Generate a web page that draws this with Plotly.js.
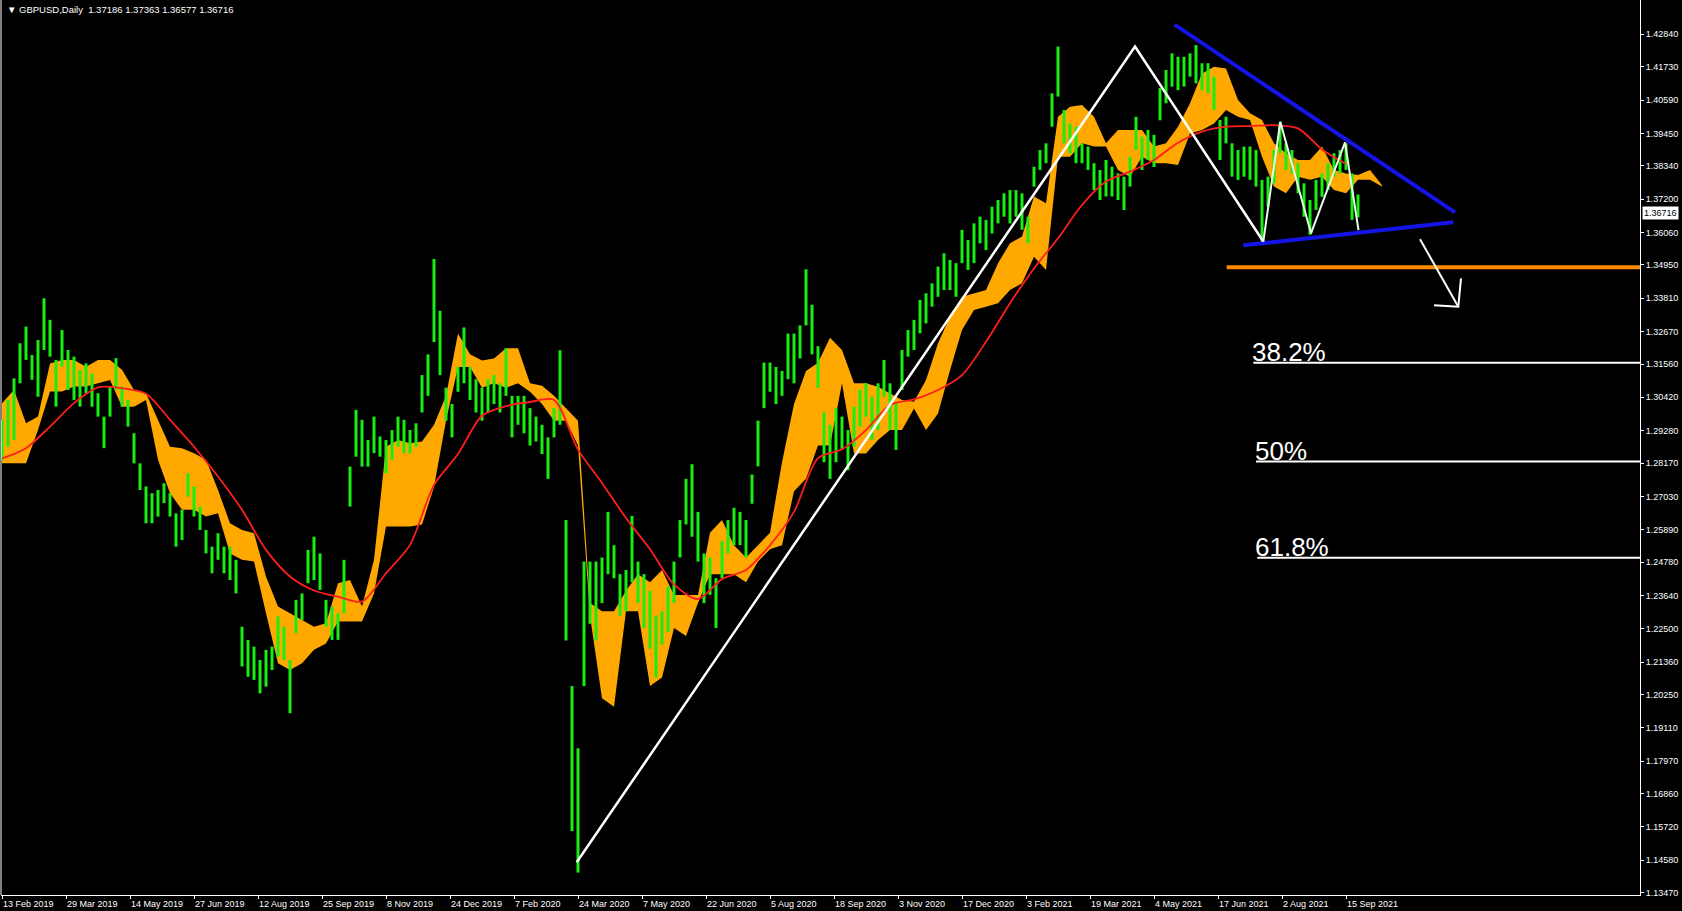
<!DOCTYPE html>
<html>
<head>
<meta charset="utf-8">
<script src="https://cdn.plot.ly/plotly-3.0.1.min.js"></script>
<style>
html,body{margin:0;padding:0;background:#000;overflow:hidden;}
#chart{width:1682px;height:911px;}
</style>
</head>
<body>
<div id="chart"></div>
<script>
// ---------- DATA (GBPUSD daily) ----------
const symbolTitle = 'GBPUSD,Daily';
const lastOHLC = ['1.37186', '1.37363', '1.36577', '1.36716'];
const lastClose = 1.36716;

// one sampled bar every 3 trading days (bar index 0 = 13 Feb 2019)
const barStep = 3;
const barHigh = [
1.2965,1.3033,1.3107,1.3227,1.3284,1.3187,1.3238,1.3381,1.3307,1.3170,
1.3272,1.3204,1.3181,1.3136,1.3158,1.3124,1.3056,1.2976,1.3079,1.3176,
1.3079,1.3033,1.2919,1.2816,1.2737,1.2714,1.2725,1.2748,1.2714,1.2645,
1.2657,1.2782,1.2737,1.2668,1.2588,1.2531,1.2577,1.2531,1.2531,1.2486,
1.2257,1.2212,1.2189,1.2143,1.2178,1.2189,1.2292,1.2257,1.2143,1.2349,
1.2371,1.2520,1.2565,1.2508,1.2349,1.2326,1.2303,1.2486,1.2805,1.2999,
1.2965,1.2896,1.2976,1.2908,1.2896,1.2930,1.2976,1.2965,1.2930,1.2953,
1.3118,1.3189,1.3515,1.3338,1.3075,1.3019,1.3146,1.3281,1.3146,1.3104,
1.3075,1.3104,1.3118,1.3090,1.3210,1.3047,1.3047,1.3047,1.3005,1.2976,
1.2948,1.2905,1.3005,1.3203,1.2622,1.2054,1.1841,1.2480,1.2480,1.2480,
1.2494,1.2650,1.2536,1.2437,1.2451,1.2636,1.2480,1.2437,1.2380,1.2295,
1.2310,1.2395,1.2480,1.2622,1.2763,1.2813,1.2650,1.2508,1.2494,1.2423,
1.2551,1.2622,1.2664,1.2650,1.2622,1.2778,1.2962,1.3161,1.3161,1.3146,
1.3132,1.3260,1.3260,1.3288,1.3480,1.3359,1.3217,1.2990,1.2948,1.3005,
1.2976,1.2930,1.3010,1.3067,1.3090,1.3044,1.3090,1.3170,1.3090,1.3021,
1.3204,1.3272,1.3307,1.3375,1.3398,1.3432,1.3489,1.3535,1.3512,1.3501,
1.3615,1.3580,1.3637,1.3660,1.3649,1.3694,1.3717,1.3740,1.3751,1.3751,
1.3740,1.3660,1.3831,1.3888,1.3911,1.4082,1.4242,1.4025,1.3979,1.3968,
1.3911,1.3900,1.3843,1.3820,1.3854,1.3831,1.3808,1.3797,1.3865,1.4002,
1.3934,1.3957,1.3940,1.4100,1.4162,1.4219,1.4207,1.4207,1.4219,1.4247,
1.4185,1.4185,1.4139,1.3991,1.4002,1.3911,1.3888,1.3900,1.3900,1.3888,
1.3786,1.3797,1.3888,1.3979,1.3911,1.3888,1.3843,1.3774,1.3717,1.3786,
1.3808,1.3843,1.3877,1.3888,1.3911,1.3808,1.3736
];
const barLow = [
1.2828,1.2873,1.2896,1.3090,1.3170,1.3102,1.3044,1.3204,1.3181,1.3010,
1.3147,1.3067,1.3033,1.3010,1.3056,1.3010,1.2976,1.2868,1.2976,1.3067,
1.3010,1.2942,1.2816,1.2725,1.2611,1.2611,1.2634,1.2680,1.2634,1.2531,
1.2554,1.2702,1.2634,1.2588,1.2508,1.2440,1.2486,1.2440,1.2417,1.2371,
1.2121,1.2086,1.2075,1.2029,1.2052,1.2109,1.2155,1.2143,1.1961,1.2235,
1.2280,1.2406,1.2417,1.2383,1.2257,1.2212,1.2212,1.2303,1.2668,1.2839,
1.2805,1.2805,1.2851,1.2839,1.2782,1.2828,1.2873,1.2851,1.2851,1.2873,
1.2990,1.3047,1.3231,1.3118,1.2962,1.2905,1.3061,1.3090,1.3033,1.2990,
1.2962,1.2990,1.3019,1.2990,1.3047,1.2905,1.2948,1.2919,1.2877,1.2891,
1.2848,1.2763,1.2905,1.2948,1.2210,1.1558,1.1416,1.2054,1.2267,1.2210,
1.2338,1.2437,1.2423,1.2295,1.2310,1.2409,1.2338,1.2253,1.2182,1.2083,
1.2196,1.2239,1.2338,1.2494,1.2607,1.2565,1.2480,1.2338,1.2366,1.2253,
1.2423,1.2508,1.2536,1.2536,1.2494,1.2678,1.2806,1.3005,1.3061,1.3019,
1.3047,1.3104,1.3090,1.3175,1.3288,1.3189,1.3075,1.2820,1.2763,1.2820,
1.2862,1.2793,1.2873,1.2942,1.2976,1.2896,1.2930,1.3044,1.2930,1.2862,
1.3067,1.3181,1.3204,1.3261,1.3295,1.3352,1.3386,1.3409,1.3409,1.3386,
1.3501,1.3478,1.3501,1.3569,1.3546,1.3603,1.3637,1.3660,1.3637,1.3660,
1.3615,1.3569,1.3763,1.3820,1.3843,1.3968,1.4071,1.3911,1.3877,1.3843,
1.3843,1.3820,1.3751,1.3717,1.3729,1.3729,1.3717,1.3683,1.3763,1.3888,
1.3820,1.3854,1.3830,1.3990,1.4048,1.4105,1.4093,1.4105,1.4139,1.4116,
1.4093,1.4082,1.4025,1.3854,1.3911,1.3797,1.3786,1.3797,1.3786,1.3763,
1.3575,1.3694,1.3774,1.3877,1.3820,1.3808,1.3740,1.3660,1.3598,1.3683,
1.3728,1.3751,1.3797,1.3808,1.3820,1.3649,1.3658
];

// Ichimoku cloud edges, one sample every 6 bars
const cloudStep = 6;
const cloudTop = [
1.3022,1.3067,1.2953,1.2976,1.3158,1.3170,1.3170,1.3147,1.3170,1.3170,
1.3136,1.3067,1.3056,1.2965,1.2873,1.2868,1.2851,1.2828,1.2725,1.2611,
1.2588,1.2577,1.2429,1.2326,1.2303,1.2280,1.2257,1.2269,1.2406,1.2417,
1.2326,1.2486,1.2873,1.2896,1.2885,1.2891,1.2948,1.3047,1.3260,1.3189,
1.3168,1.3175,1.3210,1.3210,1.3090,1.3082,1.3047,1.3005,1.2962,1.2338,
1.2310,1.2310,1.2380,1.2437,1.2409,1.2451,1.2366,1.2366,1.2366,1.2579,
1.2622,1.2536,1.2494,1.2536,1.2579,1.2820,1.3019,1.3132,1.3160,1.3246,
1.3204,1.3090,1.3090,1.3078,1.3056,1.3033,1.3027,1.3101,1.3227,1.3318,
1.3386,1.3398,1.3409,1.3501,1.3569,1.3592,1.3729,1.3706,1.4002,1.4036,
1.4042,1.4002,1.3911,1.3957,1.3957,1.3957,1.3900,1.3911,1.3968,1.4048,
1.4150,1.4173,1.4167,1.4059,1.4014,1.3991,1.3911,1.3877,1.3854,1.3854,
1.3900,1.3820,1.3808,1.3803,1.3820,1.3768
];
const cloudBottom = [
1.2816,1.2816,1.2816,1.2930,1.3062,1.3062,1.3079,1.3079,1.3090,1.3101,
1.3010,1.3010,1.3033,1.2828,1.2714,1.2657,1.2657,1.2634,1.2645,1.2508,
1.2486,1.2480,1.2303,1.2132,1.2109,1.2132,1.2178,1.2200,1.2275,1.2275,
1.2275,1.2371,1.2600,1.2600,1.2600,1.2607,1.2735,1.2962,1.3146,1.3146,
1.3075,1.3090,1.3075,1.3090,1.3061,1.3019,1.2962,1.2962,1.2877,1.2295,
1.2012,1.1983,1.2310,1.2310,1.2054,1.2083,1.2253,1.2225,1.2338,1.2437,
1.2437,1.2437,1.2409,1.2480,1.2522,1.2536,1.2721,1.2763,1.2877,1.2877,
1.3090,1.2850,1.2850,1.2896,1.2930,1.2930,1.3004,1.2930,1.2987,1.3135,
1.3272,1.3341,1.3352,1.3364,1.3409,1.3432,1.3523,1.3478,1.3865,1.3865,
1.3911,1.3900,1.3900,1.3820,1.3797,1.3865,1.3843,1.3843,1.3837,1.3945,
1.3957,1.3979,1.4025,1.4002,1.3991,1.3865,1.3763,1.3740,1.3797,1.3786,
1.3797,1.3751,1.3740,1.3786,1.3786,1.3763
];

// red moving average, one sample every 12 bars
const maStep = 12;
const maValues = [
1.2833,1.2868,1.2942,1.3022,1.3076,1.3073,1.3054,1.2965,1.2873,1.2771,
1.2657,1.2520,1.2429,1.2381,1.2360,1.2343,1.2440,1.2537,1.2742,1.2848,
1.2979,1.3012,1.3026,1.3033,1.2863,1.2749,1.2629,1.2522,1.2402,1.2352,
1.2420,1.2451,1.2536,1.2650,1.2834,1.2864,1.2930,1.3016,1.3035,1.3067,
1.3118,1.3232,1.3364,1.3483,1.3586,1.3700,1.3780,1.3814,1.3854,1.3913,
1.3951,1.3968,1.3970,1.3973,1.3962,1.3890,1.3840
];

// price axis labels and date axis labels
const priceTicks = [1.42840,1.41730,1.40590,1.39450,1.38340,1.37200,1.36060,1.34950,1.33810,
  1.32670,1.31560,1.30420,1.29280,1.28170,1.27030,1.25890,1.24780,1.23640,1.22500,1.21360,
  1.20250,1.19110,1.17970,1.16860,1.15720,1.14580,1.13470];
const dateTickStep = 32;
const dateLabels = ['13 Feb 2019','29 Mar 2019','14 May 2019','27 Jun 2019','12 Aug 2019',
  '25 Sep 2019','8 Nov 2019','24 Dec 2019','7 Feb 2020','24 Mar 2020','7 May 2020',
  '22 Jun 2020','5 Aug 2020','18 Sep 2020','3 Nov 2020','17 Dec 2020','3 Feb 2021',
  '19 Mar 2021','4 May 2021','17 Jun 2021','2 Aug 2021','15 Sep 2021'];

// hand-drawn analysis objects (bar index, price)
const bigSwingIdx = [287.35, 566.5, 630.65];
const bigSwingPx = [1.1451, 1.4242, 1.3575];
const smallSwingIdx = [630.65, 639.15, 654.5, 671.5, 678.25];
const smallSwingPx = [1.3575, 1.3985, 1.3603, 1.3914, 1.3614];
const upperTrendIdx = [586.3, 726.5];
const upperTrendPx = [1.4317, 1.3675];
const lowerTrendIdx = [620.65, 725.65];
const lowerTrendPx = [1.3562, 1.3641];
const supportStartIdx = 612.35;
const supportPx = 1.3487;
const arrowShaftIdx = [709, 728.15];
const arrowShaftPx = [1.3583, 1.3352];
const arrowHeadIdx = [716, 728.15, 729.5];
const arrowHeadPx = [1.3357, 1.3352, 1.3449];
const fibLabels = ['38.2%', '50%', '61.8%'];
const fibLevels = [1.3160, 1.2822, 1.2493];
const fibLineStartIdx = [625.65, 627, 627.65];
const fibTextIdx = [624, 625.35, 625.35];

// ---------- BUILD ----------
const X_MAX = 819;
const Y_RANGE = [1.13392, 1.44014];

const bx = [], by = [];
barHigh.forEach((h, i) => {
  const x = i * barStep;
  bx.push(x, x, null);
  by.push(barLow[i], h, null);
});
const cloudX = cloudTop.map((_, i) => i * cloudStep);
const maX = maValues.map((_, i) => i * maStep);

const traces = [
  {x: cloudX, y: cloudBottom, mode: 'lines', line: {width: 0, color: 'rgba(0,0,0,0)'}, hoverinfo: 'skip'},
  {x: cloudX, y: cloudTop, mode: 'lines', fill: 'tonexty', fillcolor: '#FFA800',
   line: {width: 0, color: 'rgba(0,0,0,0)'}, hoverinfo: 'skip'},
  {x: bx, y: by, mode: 'lines', line: {color: 'rgb(24,238,18)', width: 3}, connectgaps: false, hoverinfo: 'skip'},
  {x: maX, y: maValues, mode: 'lines', line: {color: '#FF1E1E', width: 1.8, shape: 'spline', smoothing: 0.8}, hoverinfo: 'skip'},
  {x: [supportStartIdx, X_MAX], y: [supportPx, supportPx], mode: 'lines', line: {color: '#FF8A00', width: 4}, hoverinfo: 'skip'},
  {x: upperTrendIdx, y: upperTrendPx, mode: 'lines', line: {color: '#1414E6', width: 4}, hoverinfo: 'skip'},
  {x: lowerTrendIdx, y: lowerTrendPx, mode: 'lines', line: {color: '#1414E6', width: 4}, hoverinfo: 'skip'},
  {x: bigSwingIdx, y: bigSwingPx, mode: 'lines', line: {color: '#FFFFFF', width: 2.5}, hoverinfo: 'skip'},
  {x: smallSwingIdx, y: smallSwingPx, mode: 'lines', line: {color: '#E8FFE8', width: 2}, hoverinfo: 'skip'},
  {x: arrowShaftIdx, y: arrowShaftPx, mode: 'lines', line: {color: '#FFFFFF', width: 2}, hoverinfo: 'skip'},
  {x: arrowHeadIdx, y: arrowHeadPx, mode: 'lines', line: {color: '#FFFFFF', width: 2}, hoverinfo: 'skip'}
];
fibLevels.forEach((lv, i) => {
  traces.push({x: [fibLineStartIdx[i], X_MAX], y: [lv, lv], mode: 'lines',
    line: {color: '#FFFFFF', width: 2}, hoverinfo: 'skip'});
});

const FONT = 'Liberation Sans, Arial, sans-serif';
const annotations = [];
dateLabels.forEach((t, i) => {
  annotations.push({x: i * dateTickStep, xref: 'x', y: 0, yref: 'paper', xanchor: 'left', yanchor: 'top',
    yshift: -2, xshift: -1, text: t, showarrow: false, font: {family: FONT, size: 9, color: '#FFFFFF'}});
});
fibLabels.forEach((t, i) => {
  annotations.push({x: fibTextIdx[i], xref: 'x', y: fibLevels[i], yref: 'y', xanchor: 'left', yanchor: 'bottom',
    yshift: -6, text: t, showarrow: false, font: {family: FONT, size: 26, color: '#FFFFFF'}});
});
annotations.push({x: 1, xref: 'paper', y: lastClose, yref: 'y', xanchor: 'left', yanchor: 'middle', xshift: 2,
  text: lastClose.toFixed(5), showarrow: false, bgcolor: '#FFFFFF', borderpad: 1,
  font: {family: FONT, size: 9, color: '#000000'}});
annotations.push({x: 0, xref: 'paper', y: 1, yref: 'paper', xanchor: 'left', yanchor: 'top', xshift: 4, yshift: -2,
  text: '\u25BC ' + symbolTitle + '&nbsp;&nbsp;' + lastOHLC.join(' '), showarrow: false,
  font: {family: FONT, size: 9.5, color: '#FFFFFF'}});

const layout = {
  width: 1682, height: 911,
  margin: {l: 1, r: 42, t: 0, b: 16, pad: 0},
  paper_bgcolor: '#000000', plot_bgcolor: '#000000',
  showlegend: false,
  font: {family: FONT, size: 9, color: '#FFFFFF'},
  xaxis: {range: [-0.5, X_MAX], showgrid: false, zeroline: false, showline: true, linecolor: '#FFFFFF', linewidth: 1,
    ticks: 'outside', ticklen: 3, tickcolor: '#FFFFFF', tickwidth: 1,
    tickvals: dateLabels.map((_, i) => i * dateTickStep), showticklabels: false, fixedrange: true},
  yaxis: {range: Y_RANGE, side: 'right', showgrid: false, zeroline: false, showline: true, linecolor: '#FFFFFF',
    linewidth: 1, ticks: 'outside', ticklen: 3, tickcolor: '#FFFFFF', tickwidth: 1,
    tickvals: priceTicks, ticktext: priceTicks.map(v => v.toFixed(5)),
    tickfont: {family: FONT, size: 9, color: '#FFFFFF'}, fixedrange: true},
  shapes: [
    {type: 'line', xref: 'paper', yref: 'paper', x0: 0, x1: 0, y0: 0, y1: 1, line: {color: '#FFFFFF', width: 1}}
  ],
  annotations: annotations
};

Plotly.newPlot('chart', traces, layout, {displayModeBar: false, staticPlot: true});
</script>
</body>
</html>
